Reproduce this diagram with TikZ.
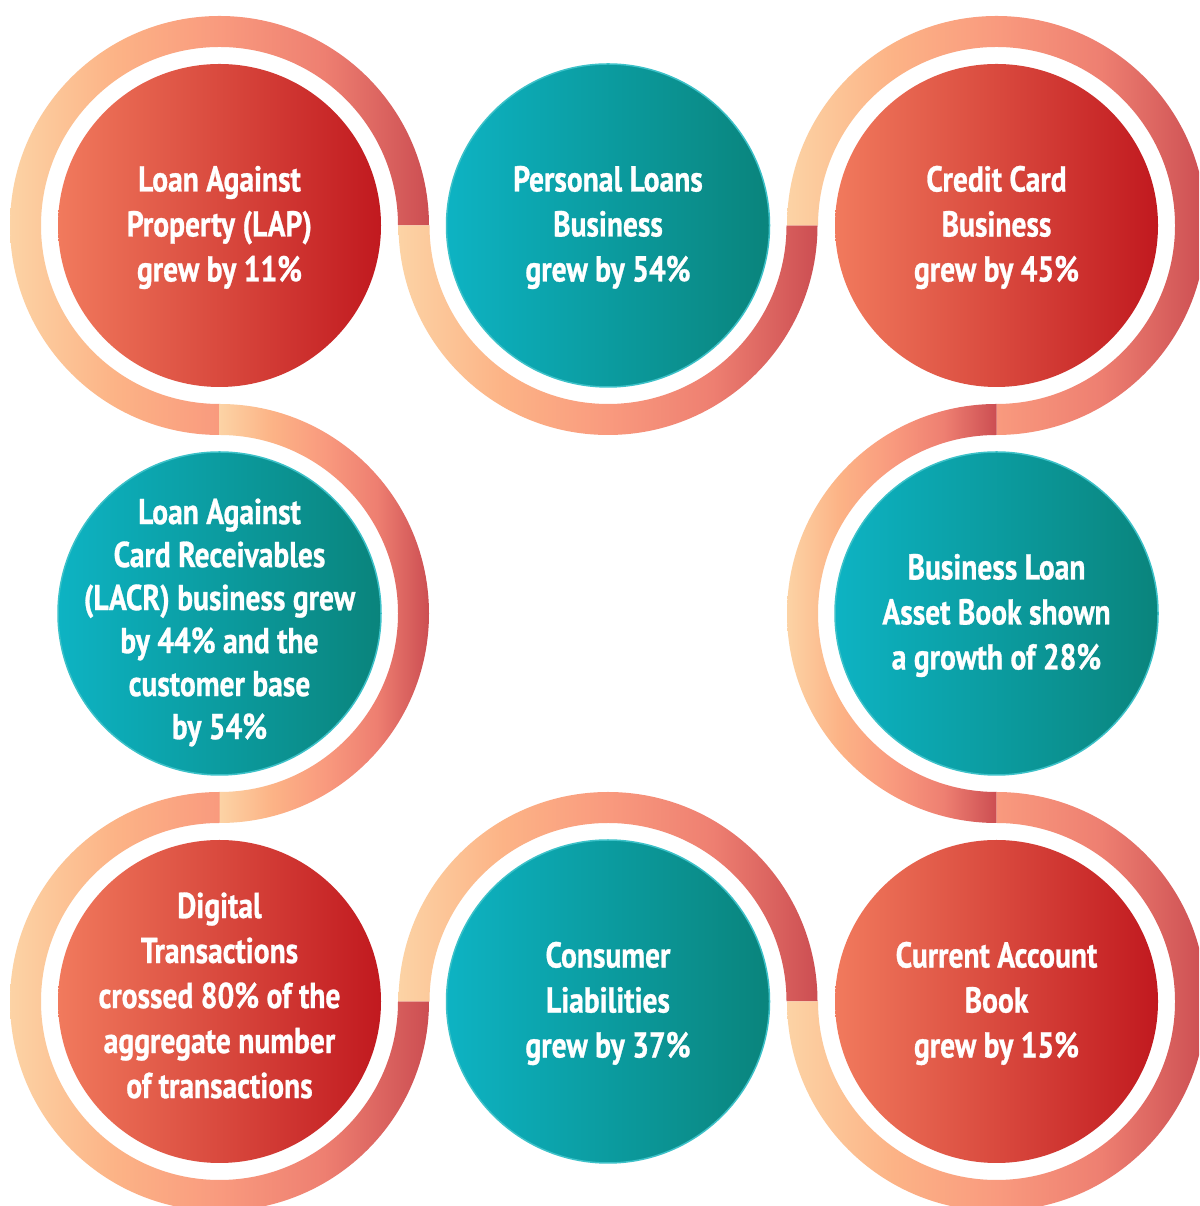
\documentclass[tikz,border=0pt]{standalone}
\usepackage{fontspec}
\usetikzlibrary{calc}
\newfontfamily\lblfont{PT Sans}[FakeStretch=0.82, BoldFeatures={FakeBold=0.8}]
\definecolor{pk0}{HTML}{FCD3A5}
\definecolor{pk1}{HTML}{FCB386}
\definecolor{pk2}{HTML}{F99A7E}
\definecolor{pk3}{HTML}{EE7F71}
\definecolor{pk4}{HTML}{CC4E52}
\definecolor{rd1}{HTML}{F17A5D}
\definecolor{rd2}{HTML}{E8402E}
\definecolor{rd3}{HTML}{C1191F}
\definecolor{tl1}{HTML}{0DB3C3}
\definecolor{tl2}{HTML}{0B9C9E}
\definecolor{tl3}{HTML}{0A847C}
\definecolor{tlb}{HTML}{3CC1C8}
\pgfdeclarehorizontalshading{ringshade}{100bp}{color(0bp)=(pk0); color(25bp)=(pk0); color(37.5bp)=(pk1); color(50bp)=(pk2); color(62.5bp)=(pk3); color(75bp)=(pk4); color(100bp)=(pk4)}
\newcommand\ringseg[3]{%
  \shade[shading=ringshade]
    ($(#1)+(#2:209.5)$) arc[start angle=#2, end angle=#3, radius=209.5]
    -- ($(#1)+(#3:178.5)$) arc[start angle=#3, end angle=#2, radius=178.5] -- cycle;}
\begin{document}
\begin{tikzpicture}[x=1pt,y=1pt,
  redcirc/.style={circle, minimum size=323pt, inner sep=0pt, left color=rd1, middle color=rd2, right color=rd3},
  tealcirc/.style={circle, minimum size=323pt, inner sep=0pt, left color=tl1, middle color=tl2, right color=tl3, draw=tlb, line width=1.5pt},
  lbl/.style={text=white, align=center, font=\lblfont\bfseries\fontsize{36}{45}\selectfont}]
\useasboundingbox (0,0) rectangle (1199,1206);
\fill[white] (0,0) rectangle (1199,1206);
\clip (0,0) rectangle (1199,1206);
% circles
\node[redcirc]  (c1) at (219.5,980.5) {};
\node[tealcirc] (c2) at (608,980.5) {};
\node[redcirc]  (c3) at (996.5,980.5) {};
\node[tealcirc] (c4) at (219.5,592.5) {};
\node[tealcirc] (c5) at (996.5,592.5) {};
\node[redcirc]  (c6) at (219.5,204.5) {};
\node[tealcirc] (c7) at (608,204.5) {};
\node[redcirc]  (c8) at (996.5,204.5) {};
% ring segments
\ringseg{c1}{0}{270}
\ringseg{c2}{180}{360}
\ringseg{c3}{180}{-90}
\ringseg{c4}{90}{-90}
\ringseg{c5}{90}{270}
\ringseg{c6}{90}{360}
\ringseg{c7}{0}{180}
\ringseg{c8}{90}{-180}
% labels
\node[lbl] (t1) at ($(c1)+(0,-2)$) {Loan Against\\Property (LAP)\\grew by 11\%};
\node[lbl] (t2) at ($(c2)+(0,-2)$) {Personal Loans\\Business\\grew by 54\%};
\node[lbl] (t3) at ($(c3)+(0,-2)$) {Credit Card\\Business\\grew by 45\%};
\node[lbl, font=\lblfont\bfseries\fontsize{36}{43}\selectfont] (t4) at ($(c4)+(0,-9)$) {Loan Against\\Card Receivables\\(LACR) business grew\\by 44\% and the\\customer base\\by 54\%};
\node[lbl] (t5) at ($(c5)+(0,-2)$) {Business Loan\\Asset Book shown\\a growth of 28\%};
\node[lbl] (t6) at ($(c6)+(0,6)$) {Digital\\Transactions\\crossed 80\% of the\\aggregate number\\of transactions};
\node[lbl] (t7) at ($(c7)+(0,-2)$) {Consumer\\Liabilities\\grew by 37\%};
\node[lbl] (t8) at ($(c8)+(0,-2)$) {Current Account\\Book\\grew by 15\%};
\end{tikzpicture}
\end{document}
